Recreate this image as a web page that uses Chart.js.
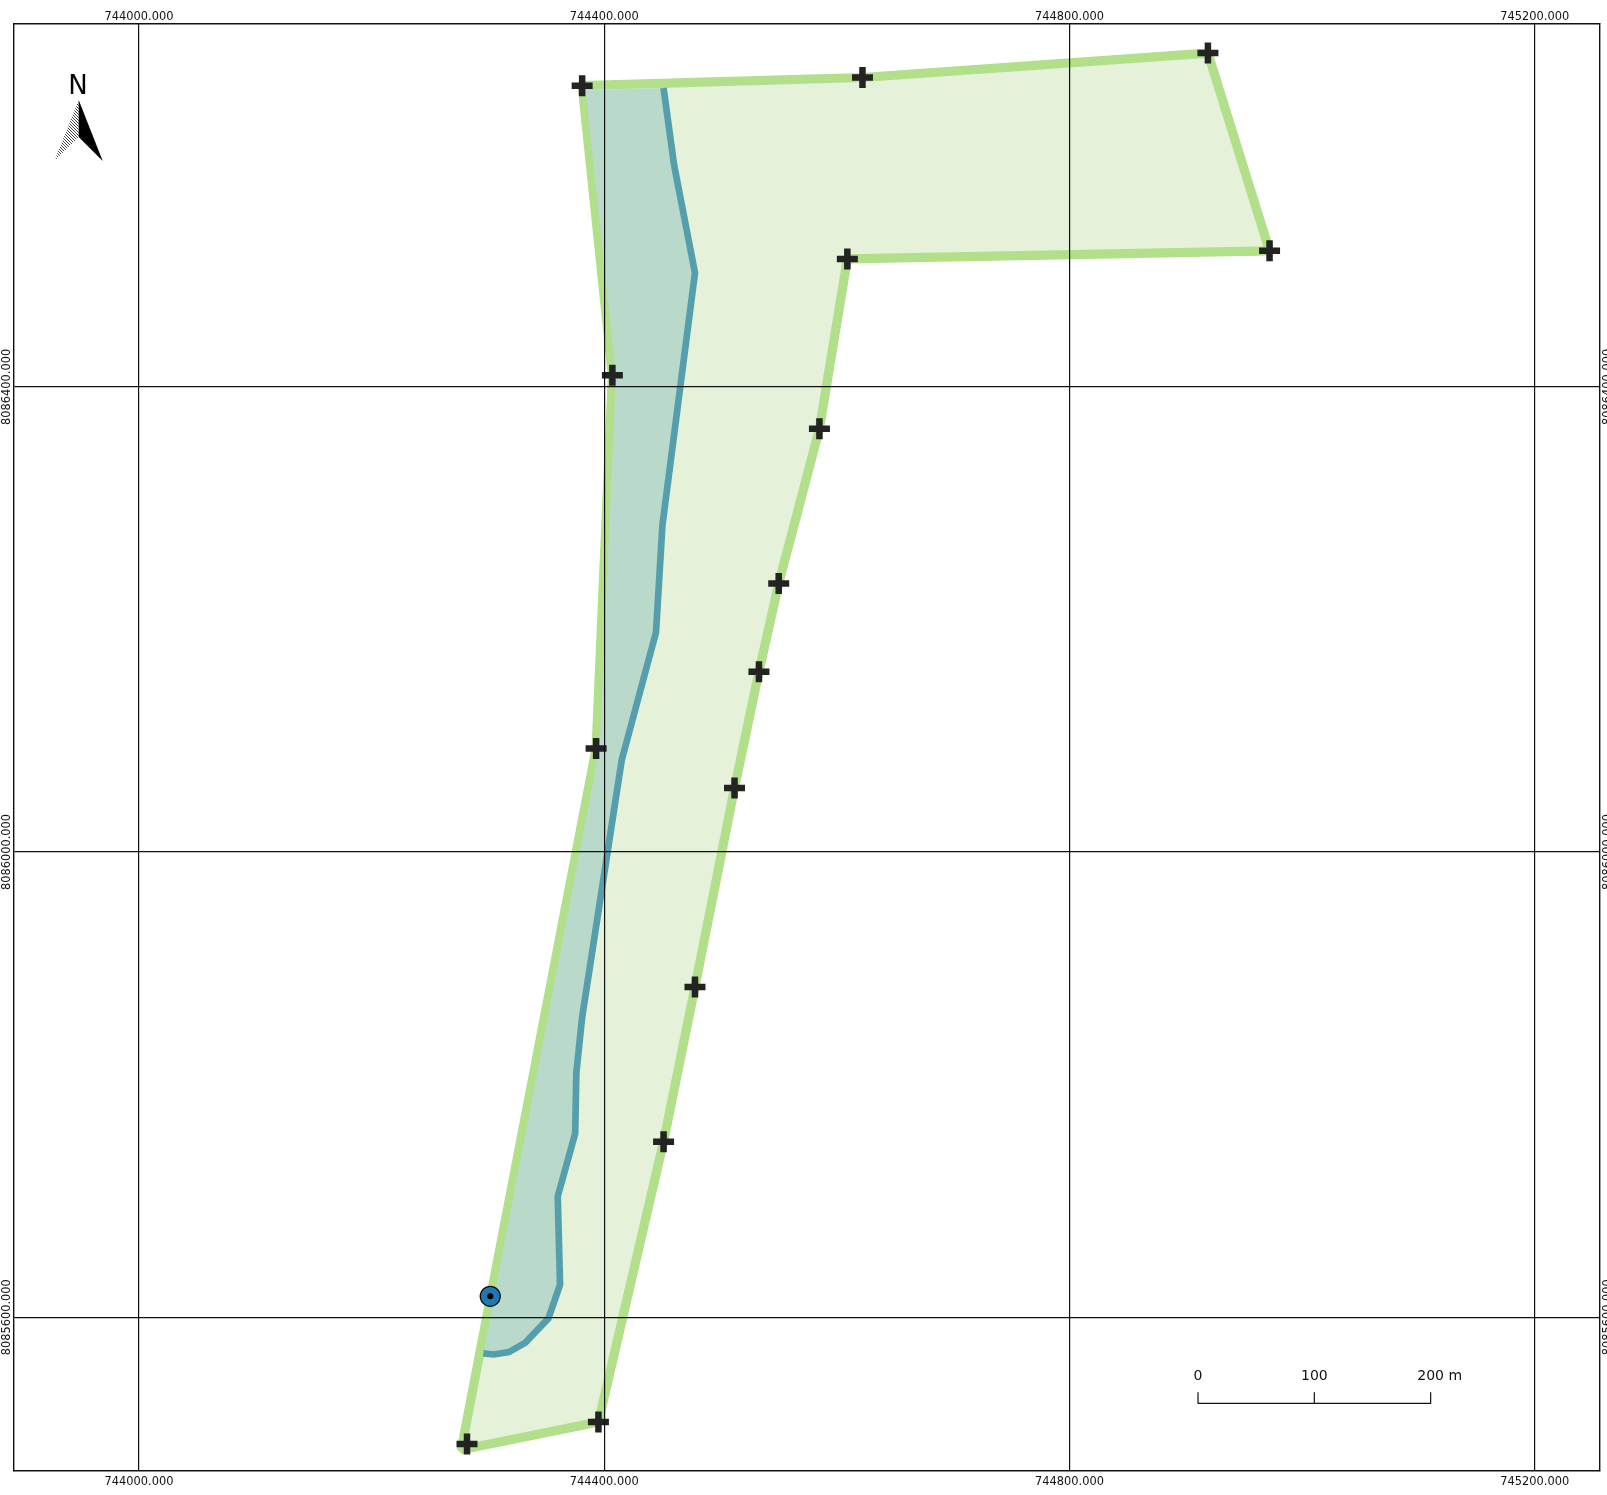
<!DOCTYPE html>
<html>
<head>
<meta charset="utf-8">
<style>html,body{margin:0;padding:0;background:#fff;overflow:hidden}canvas{display:block}</style>
<script src="https://cdn.jsdelivr.net/npm/chart.js@4"></script>
</head>
<body>
<canvas id="c" width="1607" height="1495"></canvas>
<script>
const xTicks = [744000, 744400, 744800, 745200];
const yTicks = [8085600, 8086000, 8086400];

const parcelX = [744381, 744622, 744919, 744972, 744609, 744585, 744550, 744533, 744512, 744478, 744451, 744395, 744277, 744393, 744407, 744381];
const parcelY = [8086659, 8086666, 8086687, 8086517, 8086510, 8086364, 8086231, 8086155, 8086055, 8085884, 8085751, 8085510, 8085486, 8086089, 8086410, 8086659];

const markerX = [744381, 744622, 744919, 744972, 744609, 744585, 744550, 744533, 744512, 744478, 744451, 744395, 744282, 744393, 744407];
const markerY = [8086659, 8086666, 8086687, 8086517, 8086510, 8086364, 8086231, 8086155, 8086055, 8085884, 8085751, 8085510, 8085491, 8086089, 8086410];

const streamX = [744451, 744460, 744478, 744450, 744444.5, 744415, 744381, 744376, 744375, 744360, 744362, 744352, 744332, 744318, 744305, 744296];
const streamY = [8086657, 8086591, 8086498, 8086281, 8086189, 8086079, 8085858, 8085810, 8085758, 8085704, 8085628, 8085599, 8085578, 8085570, 8085568, 8085569];

const zoneX = [744451, 744460, 744478, 744450, 744444.5, 744415, 744381, 744376, 744375, 744360, 744362, 744352, 744332, 744318, 744305, 744296, 744296, 744396, 744410, 744384, 744451];
const zoneY = [8086657, 8086591, 8086498, 8086281, 8086189, 8086079, 8085858, 8085810, 8085758, 8085704, 8085628, 8085599, 8085578, 8085570, 8085568, 8085569, 8085569, 8086089, 8086410, 8086655, 8086657];

const wellX = [744302];
const wellY = [8085618];

const scaleStops = [0, 100, 200];
const scaleLabels = ['0', '100', '200 m'];
const scaleOriginX = 744910.5;
const scaleOriginY = 8085526;

const zip = (xs, ys) => xs.map((x, i) => ({x, y: ys[i]}));
const FONT = '"DejaVu Sans"';
const bounds = {xMin: 743892.1, xMax: 745256.1, yMin: 8085467.8, yMax: 8086712};

function axis(position, ids, size, padding, main, horizontal) {
  const o = {
    type: 'linear', position,
    min: horizontal ? bounds.xMin : bounds.yMin,
    max: horizontal ? bounds.xMax : bounds.yMax,
    afterBuildTicks: s => { s.ticks = ids.map(value => ({value})); },
    afterFit: s => {
      if (horizontal) s.height = size; else s.width = size;
      s.paddingLeft = s.paddingRight = s.paddingTop = s.paddingBottom = 0;
    },
    grid: {display: main, color: '#111', lineWidth: 1.2, drawTicks: false, z: 1},
    border: {display: true, color: '#111', width: 1.4, z: 1},
    ticks: {
      padding, color: '#111', font: {family: FONT, size: 11.4},
      autoSkip: false, includeBounds: false,
      callback: v => Number(v).toFixed(3)
    }
  };
  if (horizontal) { o.ticks.maxRotation = 0; o.ticks.minRotation = 0; }
  else { o.ticks.maxRotation = 90; o.ticks.minRotation = 90; o.ticks.crossAlign = 'center'; }
  return o;
}

const decorations = {
  id: 'decorations',
  afterDatasetsDraw(chart) {
    const ctx = chart.ctx, sx = chart.scales.x, sy = chart.scales.y;
    ctx.save();
    // north arrow
    const p = document.createElement('canvas'); p.width = 3; p.height = 3;
    const pc = p.getContext('2d');
    pc.fillStyle = '#fff'; pc.fillRect(0, 0, 3, 3);
    pc.fillStyle = '#444'; pc.fillRect(0, 0, 1, 1); pc.fillRect(1, 1, 1, 1); pc.fillRect(2, 2, 1, 1);
    ctx.fillStyle = ctx.createPattern(p, 'repeat');
    ctx.beginPath(); ctx.moveTo(78.7, 100); ctx.lineTo(54.3, 161); ctx.lineTo(78.7, 137); ctx.closePath(); ctx.fill();
    ctx.fillStyle = '#000';
    ctx.beginPath(); ctx.moveTo(78.7, 100); ctx.lineTo(102.7, 161); ctx.lineTo(78.7, 137); ctx.closePath(); ctx.fill();
    ctx.font = '26px ' + FONT; ctx.textAlign = 'center'; ctx.textBaseline = 'alphabetic';
    ctx.fillText('N', 78, 94);
    // scale bar
    const yBar = sy.getPixelForValue(scaleOriginY);
    const px = scaleStops.map(v => sx.getPixelForValue(scaleOriginX + v));
    ctx.strokeStyle = '#111'; ctx.lineWidth = 1.2;
    ctx.beginPath();
    ctx.moveTo(px[0], yBar); ctx.lineTo(px[px.length - 1], yBar);
    px.forEach(x => { ctx.moveTo(x, yBar + 0.5); ctx.lineTo(x, yBar - 11); });
    ctx.stroke();
    ctx.fillStyle = '#111'; ctx.font = '14px ' + FONT; ctx.textBaseline = 'middle';
    scaleLabels.forEach((t, i) => {
      const last = i === scaleLabels.length - 1;
      ctx.textAlign = last ? 'left' : 'center';
      ctx.fillText(t, last ? px[i] - 13.4 : px[i], yBar - 27);
    });
    ctx.restore();
  }
};

new Chart(document.getElementById('c'), {
  type: 'scatter',
  plugins: [decorations],
  data: {
    datasets: [
      {label: 'Parcel area', data: zip(parcelX, parcelY), showLine: true, fill: 'shape', backgroundColor: '#e5f2d9', borderWidth: 0, pointRadius: 0, tension: 0, order: 60},
      {label: 'Parcel outline', data: zip(parcelX, parcelY), showLine: true, fill: false, borderColor: '#b2df8a', borderWidth: 9.2, borderJoinStyle: 'bevel', pointRadius: 0, tension: 0, order: 50},
      {label: 'Protected zone', data: zip(zoneX, zoneY), showLine: true, fill: 'shape', backgroundColor: '#b9d9ca', borderWidth: 0, pointRadius: 0, tension: 0, order: 40},
      {label: 'Stream edge', data: zip(streamX, streamY), showLine: true, fill: false, borderColor: '#559fac', borderWidth: 6.7, borderJoinStyle: 'miter', pointRadius: 0, tension: 0, order: 30},
      {label: 'Vertices', data: zip(markerX, markerY), showLine: false, pointStyle: 'cross', pointRadius: 10.5, pointBorderColor: '#232323', pointBorderWidth: 6.5, order: 20},
      {label: 'Well', data: zip(wellX, wellY), showLine: false, pointStyle: 'circle', pointRadius: 10, pointBackgroundColor: '#1f78b4', pointBorderColor: '#111', pointBorderWidth: 1.3, order: 11},
      {label: 'Well centre', data: zip(wellX, wellY), showLine: false, pointStyle: 'circle', pointRadius: 3, pointBackgroundColor: '#000', pointBorderColor: '#000', pointBorderWidth: 0, order: 10}
    ]
  },
  options: {
    responsive: false, animation: false, devicePixelRatio: 1,
    layout: {padding: 0, autoPadding: false},
    plugins: {legend: {display: false}, tooltip: {enabled: false}, title: {display: false}},
    scales: {
      x: axis('bottom', xTicks, 24, 4, true, true),
      xTop: axis('top', xTicks, 24, 0.5, false, true),
      y: axis('left', yTicks, 13.5, -31.5, true, false),
      yRight: axis('right', yTicks, 7, -30, false, false)
    }
  }
});
</script>
</body>
</html>
